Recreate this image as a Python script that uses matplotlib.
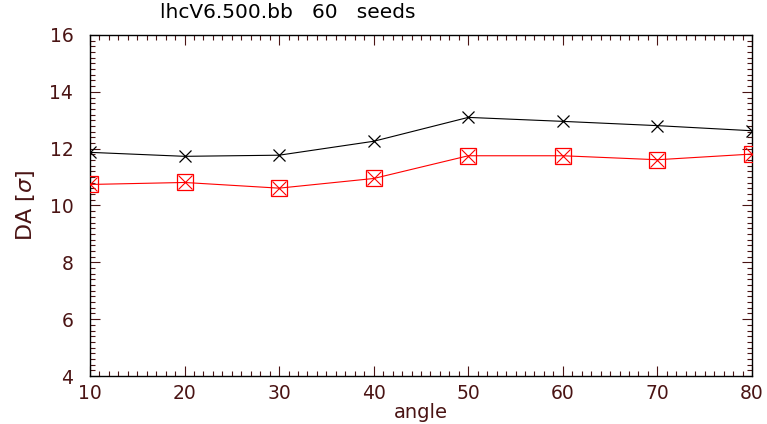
import matplotlib
matplotlib.use("Agg")
import matplotlib.pyplot as plt
from matplotlib.ticker import MultipleLocator

# dynamic aperture vs. angle, 60 seeds
angle = [10, 20, 30, 40, 50, 60, 70, 80]
da_black = [11.87, 11.73, 11.77, 12.26, 13.10, 12.96, 12.81, 12.63]
da_red = [10.74, 10.81, 10.61, 10.95, 11.75, 11.75, 11.61, 11.81]

AXIS_COLOR = "#4a1414"

plt.rcParams["font.family"] = "DejaVu Sans"
plt.rcParams["mathtext.fontset"] = "dejavusans"

fig = plt.figure(figsize=(7.67, 4.24), dpi=100)
ax = fig.add_axes([0.1173, 0.1132, 0.8631, 0.8043])

ax.plot(angle, da_black, color="black", lw=0.8, marker="x", ms=9,
        mew=0.9, zorder=3)
ax.plot(angle, da_red, color="red", lw=0.8, marker="s", ms=11,
        mfc="none", mec="red", mew=0.9, zorder=3)
ax.plot(angle, da_red, color="none", marker="x", ms=10,
        mec="red", mew=0.8, zorder=4)

ax.set_xlim(10, 80)
ax.set_ylim(4, 16)
ax.xaxis.set_major_locator(MultipleLocator(10))
ax.xaxis.set_minor_locator(MultipleLocator(1))
ax.yaxis.set_major_locator(MultipleLocator(2))
ax.yaxis.set_minor_locator(MultipleLocator(0.2))

ax.tick_params(which="both", direction="in", top=True, right=True,
               color=AXIS_COLOR, labelcolor=AXIS_COLOR, labelsize=13.5)
ax.tick_params(which="major", length=7.2, width=0.8)
ax.tick_params(which="minor", length=3.6, width=0.8)
ax.tick_params(axis="x", pad=6)
ax.tick_params(axis="y", pad=12)

for spine in ax.spines.values():
    spine.set_color("black")
    spine.set_linewidth(1.0)

ax.set_xlabel("angle", fontsize=14, color=AXIS_COLOR, labelpad=0)
ax.set_ylabel(r"DA [$\sigma$]", fontsize=16, color=AXIS_COLOR, labelpad=9)
fig.text(288 / 767, 1 - 13 / 424, "lhcV6.500.bb   60   seeds", fontsize=14.5,
         color="black", ha="center", va="center")

fig.savefig("out.png", dpi=100)
